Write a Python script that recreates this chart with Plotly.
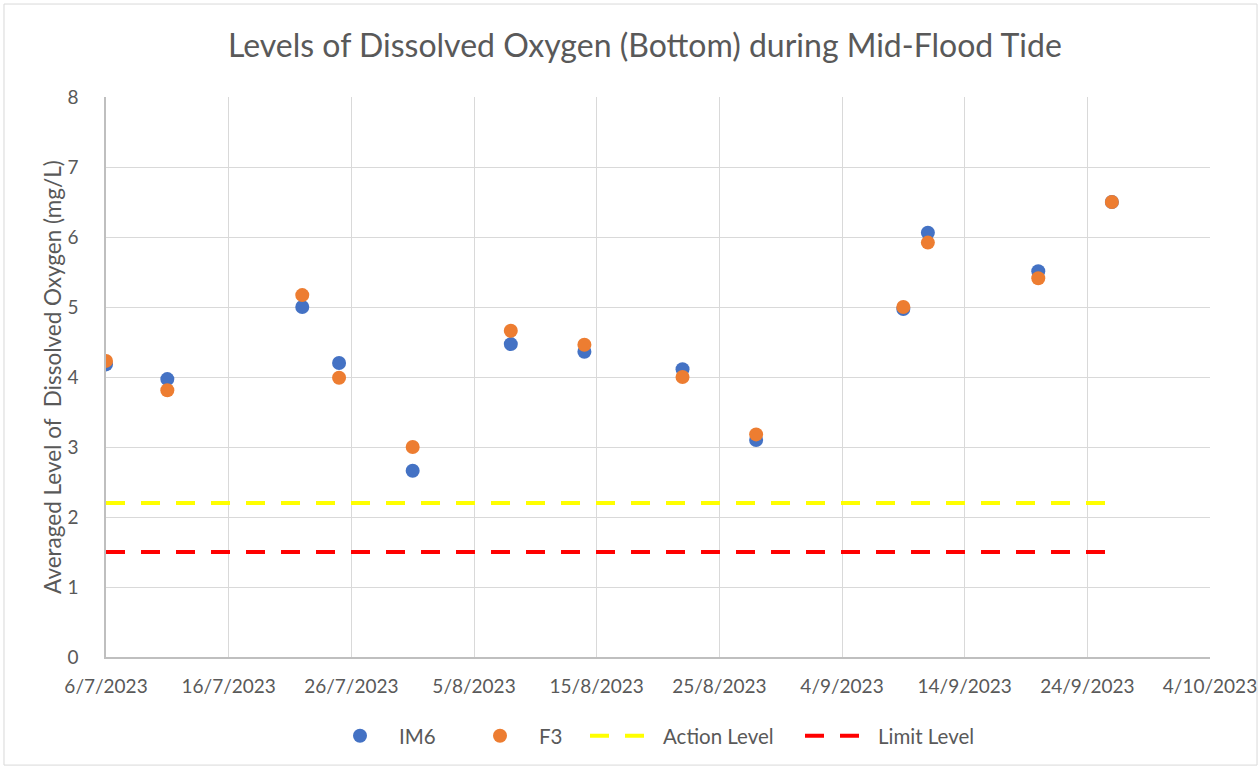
import plotly.graph_objects as go

dates = ["2023-07-06", "2023-07-11", "2023-07-22", "2023-07-25", "2023-07-31",
         "2023-08-08", "2023-08-14", "2023-08-22", "2023-08-28", "2023-09-09",
         "2023-09-11", "2023-09-20", "2023-09-26"]
im6 = [4.18, 3.97, 5.00, 4.20, 2.66, 4.47, 4.36, 4.11, 3.10, 4.97, 6.06, 5.51, 6.50]
f3 = [4.23, 3.81, 5.17, 3.99, 3.00, 4.66, 4.46, 4.00, 3.18, 5.00, 5.92, 5.41, 6.50]
action_level = 2.2
limit_level = 1.5
level_dates = [dates[0], dates[-1]]

FONT = "Lato"
GREY = "#595959"

fig = go.Figure()
fig.add_trace(go.Scatter(x=dates, y=im6, mode="markers", name="IM6", legend="legend",
                         marker=dict(color="#4472C4", size=14)))
fig.add_trace(go.Scatter(x=dates, y=f3, mode="markers", name="F3", legend="legend2",
                         marker=dict(color="#ED7D31", size=14)))
fig.add_trace(go.Scatter(x=level_dates, y=[action_level] * 2, mode="lines", name="Action Level",
                         legend="legend3",
                         line=dict(color="#FFFF00", width=4, dash="19px,16px")))
fig.add_trace(go.Scatter(x=level_dates, y=[limit_level] * 2, mode="lines", name="Limit Level",
                         legend="legend4",
                         line=dict(color="#FF0000", width=4, dash="19px,16px")))

def px2paper(px):
    return (px - 106) / 1104.0

leg_common = dict(orientation="h", y=-0.141, yanchor="middle", xanchor="left",
                  font=dict(size=20.5, color=GREY, family=FONT), itemwidth=68,
                  bgcolor="rgba(0,0,0,0)")

fig.update_layout(
    width=1260, height=769,
    margin=dict(l=106, r=50, t=97, b=112, autoexpand=False),
    plot_bgcolor="white", paper_bgcolor="white",
    font=dict(family=FONT, color=GREY, size=19),
    showlegend=True,
    legend=dict(x=px2paper(321), **leg_common),
    legend2=dict(x=px2paper(461), **leg_common),
    legend3=dict(x=px2paper(585), **leg_common),
    legend4=dict(x=px2paper(800), **leg_common),
    annotations=[
        dict(text="Levels of Dissolved Oxygen (Bottom) during Mid-Flood Tide",
             xref="paper", yref="paper", x=0.488, y=1.093, showarrow=False,
             xanchor="center", yanchor="middle", font=dict(size=32, color=GREY)),
        dict(text="Averaged Level of  Dissolved Oxygen (mg/L)",
             xref="paper", yref="paper", x=-0.049, y=0.5, showarrow=False,
             textangle=-90, xanchor="center", yanchor="middle",
             font=dict(size=22.5, color=GREY)),
    ],
    shapes=[dict(type="rect", xref="paper", yref="paper",
                 x0=-0.0924, x1=1.0426, y0=-0.193, y1=1.166,
                 line=dict(color="#D9D9D9", width=1), layer="below")],
)

fig.update_xaxes(
    type="date", range=["2023-07-06", "2023-10-04"],
    tick0="2023-07-06", dtick=10 * 24 * 3600 * 1000, tickformat="%-d/%-m/%Y",
    showgrid=True, gridcolor="#D9D9D9", gridwidth=1,
    showline=True, linecolor="#BFBFBF", linewidth=1.5,
    ticks="", ticklabelstandoff=11, tickfont=dict(size=19, color=GREY),
    zeroline=False, fixedrange=True, automargin=False,
)
fig.update_yaxes(
    range=[0, 8], dtick=1,
    showgrid=True, gridcolor="#D9D9D9", gridwidth=1,
    showline=True, linecolor="#BFBFBF", linewidth=1.5,
    ticks="", ticklabelstandoff=22, tickfont=dict(size=19, color=GREY),
    zeroline=False, fixedrange=True, automargin=False,
)

fig.write_html("out.html", config={"displayModeBar": False},
               post_script="document.body.style.margin='0';")
